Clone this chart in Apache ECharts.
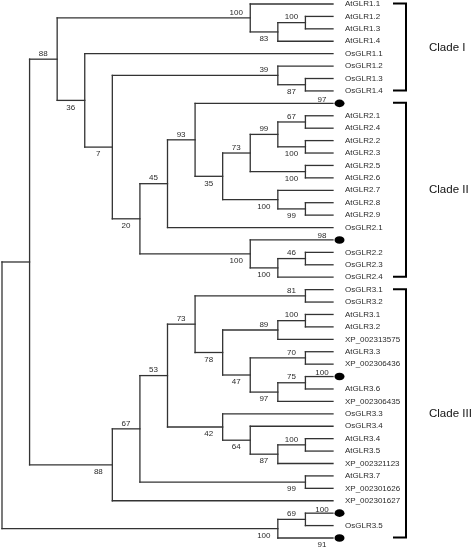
<!DOCTYPE html>
<html><head><meta charset="utf-8">
<script src="https://cdn.jsdelivr.net/npm/echarts@6/dist/echarts.min.js"></script>
<style>html,body{margin:0;padding:0;background:#fff}#c{width:472px;height:549px}</style>
</head><body><div id="c"></div>
<script>
// Tree topology (Newick-like). Internal labels = support values; "#NN" = black-dot leaf with support NN.
const cladeITree = "(AtGLR1.1,((AtGLR1.2,AtGLR1.3)100,AtGLR1.4)83)100";
const cladeIITreeA = "(((AtGLR2.1,AtGLR2.4)67,(AtGLR2.2,AtGLR2.3)100)99,(AtGLR2.5,AtGLR2.6)100)73";
const cladeIITreeB = "(AtGLR2.7,(AtGLR2.8,AtGLR2.9)99)100";
const cladeIITreeC = "(#98,((OsGLR2.2,OsGLR2.3)46,OsGLR2.4)100)100";
const cladeIIITreeA = "((OsGLR3.1,OsGLR3.2)81,(((AtGLR3.1,AtGLR3.2)100,XP_002313575)89,((AtGLR3.3,XP_002306436)70,((#100,AtGLR3.6)75,XP_002306435)97)47)78)73";
const cladeIIITreeB = "(OsGLR3.3,(OsGLR3.4,((AtGLR3.4,AtGLR3.5)100,XP_002321123)87)64)42";
const cladeIIITreeC = "((#100,OsGLR3.5)69,#91)100";

const treeNewick =
  "((" +
    "(" + cladeITree + ",(OsGLR1.1,((OsGLR1.2,(OsGLR1.3,OsGLR1.4)87)39," +
      "(((#97,(" + cladeIITreeA + "," + cladeIITreeB + ")35)93,OsGLR2.1)45," + cladeIITreeC + ")20)7)36)88," +
    "(((" + cladeIIITreeA + "," + cladeIIITreeB + ")53,(AtGLR3.7,XP_002301626)99)67,XP_002301627)88" +
  ")," + cladeIIITreeC + ")";

const cladeNames = ["Clade I", "Clade II", "Clade III"];
const cladeFirstLeaf = [0, 8, 23];
const cladeLastLeaf = [7, 22, 43];

function parse(s) {
  let i = 0;
  function node() {
    const n = { children: [] };
    if (s[i] === '(') {
      i++;
      n.children.push(node());
      while (s[i] === ',') { i++; n.children.push(node()); }
      i++;
    }
    let lab = '';
    while (i < s.length && ',()'.indexOf(s[i]) < 0) lab += s[i++];
    if (n.children.length) n.support = lab;
    else if (lab[0] === '#') { n.marker = true; n.support = lab.slice(1); }
    else n.name = lab;
    return n;
  }
  return node();
}

const root = parse(treeNewick);
const nodes = [];
let leafCount = 0;
function walk(n, role) {
  n.role = role;
  nodes.push(n);
  n.children.forEach((c, k) => walk(c, k === 0 ? 'upper' : 'lower'));
  if (!n.children.length) { n.h = 0; n.yv = leafCount++; }
  else {
    n.h = 1 + Math.max.apply(null, n.children.map(c => c.h));
    n.yv = (n.children[0].yv + n.children[n.children.length - 1].yv) / 2;
  }
}
walk(root, 'root');
const maxH = root.h;
nodes.forEach(n => { n.xv = maxH - n.h; });

const FONT = '"Liberation Sans", Arial, Helvetica, sans-serif';
const lineStyle = { stroke: '#333', lineWidth: 1.3, lineCap: 'square' };
const textColor = '#2a2a2a';

function renderNode(params, api) {
  const n = nodes[params.dataIndex];
  const p = api.coord([n.xv, n.yv]);
  const els = [];
  if (n.children.length) {
    const top = api.coord([n.xv, n.children[0].yv]);
    const bot = api.coord([n.xv, n.children[n.children.length - 1].yv]);
    els.push({ type: 'line', shape: { x1: p[0], y1: top[1], x2: p[0], y2: bot[1] }, style: lineStyle });
    n.children.forEach(c => {
      const cp = api.coord([c.xv, c.yv]);
      els.push({ type: 'line', shape: { x1: p[0], y1: cp[1], x2: cp[0], y2: cp[1] }, style: lineStyle });
    });
  } else if (n.marker) {
    els.push({ type: 'circle', x: p[0] + 6.5, y: p[1], scaleY: 0.76, shape: { cx: 0, cy: 0, r: 5 }, style: { fill: '#000' } });
  } else {
    els.push({ type: 'text', x: p[0] + 12, y: p[1],
      style: { text: n.name, font: '8px ' + FONT, fill: textColor, align: 'left', verticalAlign: 'middle' } });
  }
  if (n.support) {
    const dx = n.marker ? -11 : -14;
    const dy = n.role === 'upper' ? (n.marker ? -3.8 : -5.5) : (n.marker ? 7.2 : 7);
    els.push({ type: 'text', x: p[0] + dx, y: p[1] + dy,
      style: { text: n.support, font: '8px ' + FONT, fill: textColor, align: 'center', verticalAlign: 'middle' } });
  }
  return { type: 'group', children: els };
}

function renderClade(params, api) {
  const i = params.dataIndex;
  const a = api.coord([maxH, cladeFirstLeaf[i]]);
  const b = api.coord([maxH, cladeLastLeaf[i]]);
  const xv = a[0] + 73, xt = a[0] + 60;
  const st = { stroke: '#000', lineWidth: 2, fill: null, lineJoin: 'miter' };
  return { type: 'group', children: [
    { type: 'polyline', shape: { points: [[xt, a[1] - 0.5], [xv, a[1] - 0.5], [xv, b[1] - 0.5], [xt, b[1] - 0.5]] }, style: st },
    { type: 'text', x: a[0] + 96, y: (a[1] + b[1]) / 2,
      style: { text: cladeNames[i], font: '11.5px ' + FONT, fill: '#111', align: 'left', verticalAlign: 'middle' } }
  ] };
}

const chart = echarts.init(document.getElementById('c'), null, { renderer: 'canvas' });
chart.setOption({
  animation: false,
  backgroundColor: '#fff',
  grid: { left: 2, top: 4, width: 331, height: 534 },
  xAxis: { type: 'value', min: 0, max: maxH, show: false },
  yAxis: { type: 'value', min: 0, max: leafCount - 1, inverse: true, show: false },
  series: [
    { type: 'custom', clip: false, silent: true, renderItem: renderNode, data: nodes.map(n => [n.xv, n.yv]) },
    { type: 'custom', clip: false, silent: true, renderItem: renderClade, data: cladeNames.map((c, i) => [maxH, cladeFirstLeaf[i]]) }
  ]
});
</script></body></html>
